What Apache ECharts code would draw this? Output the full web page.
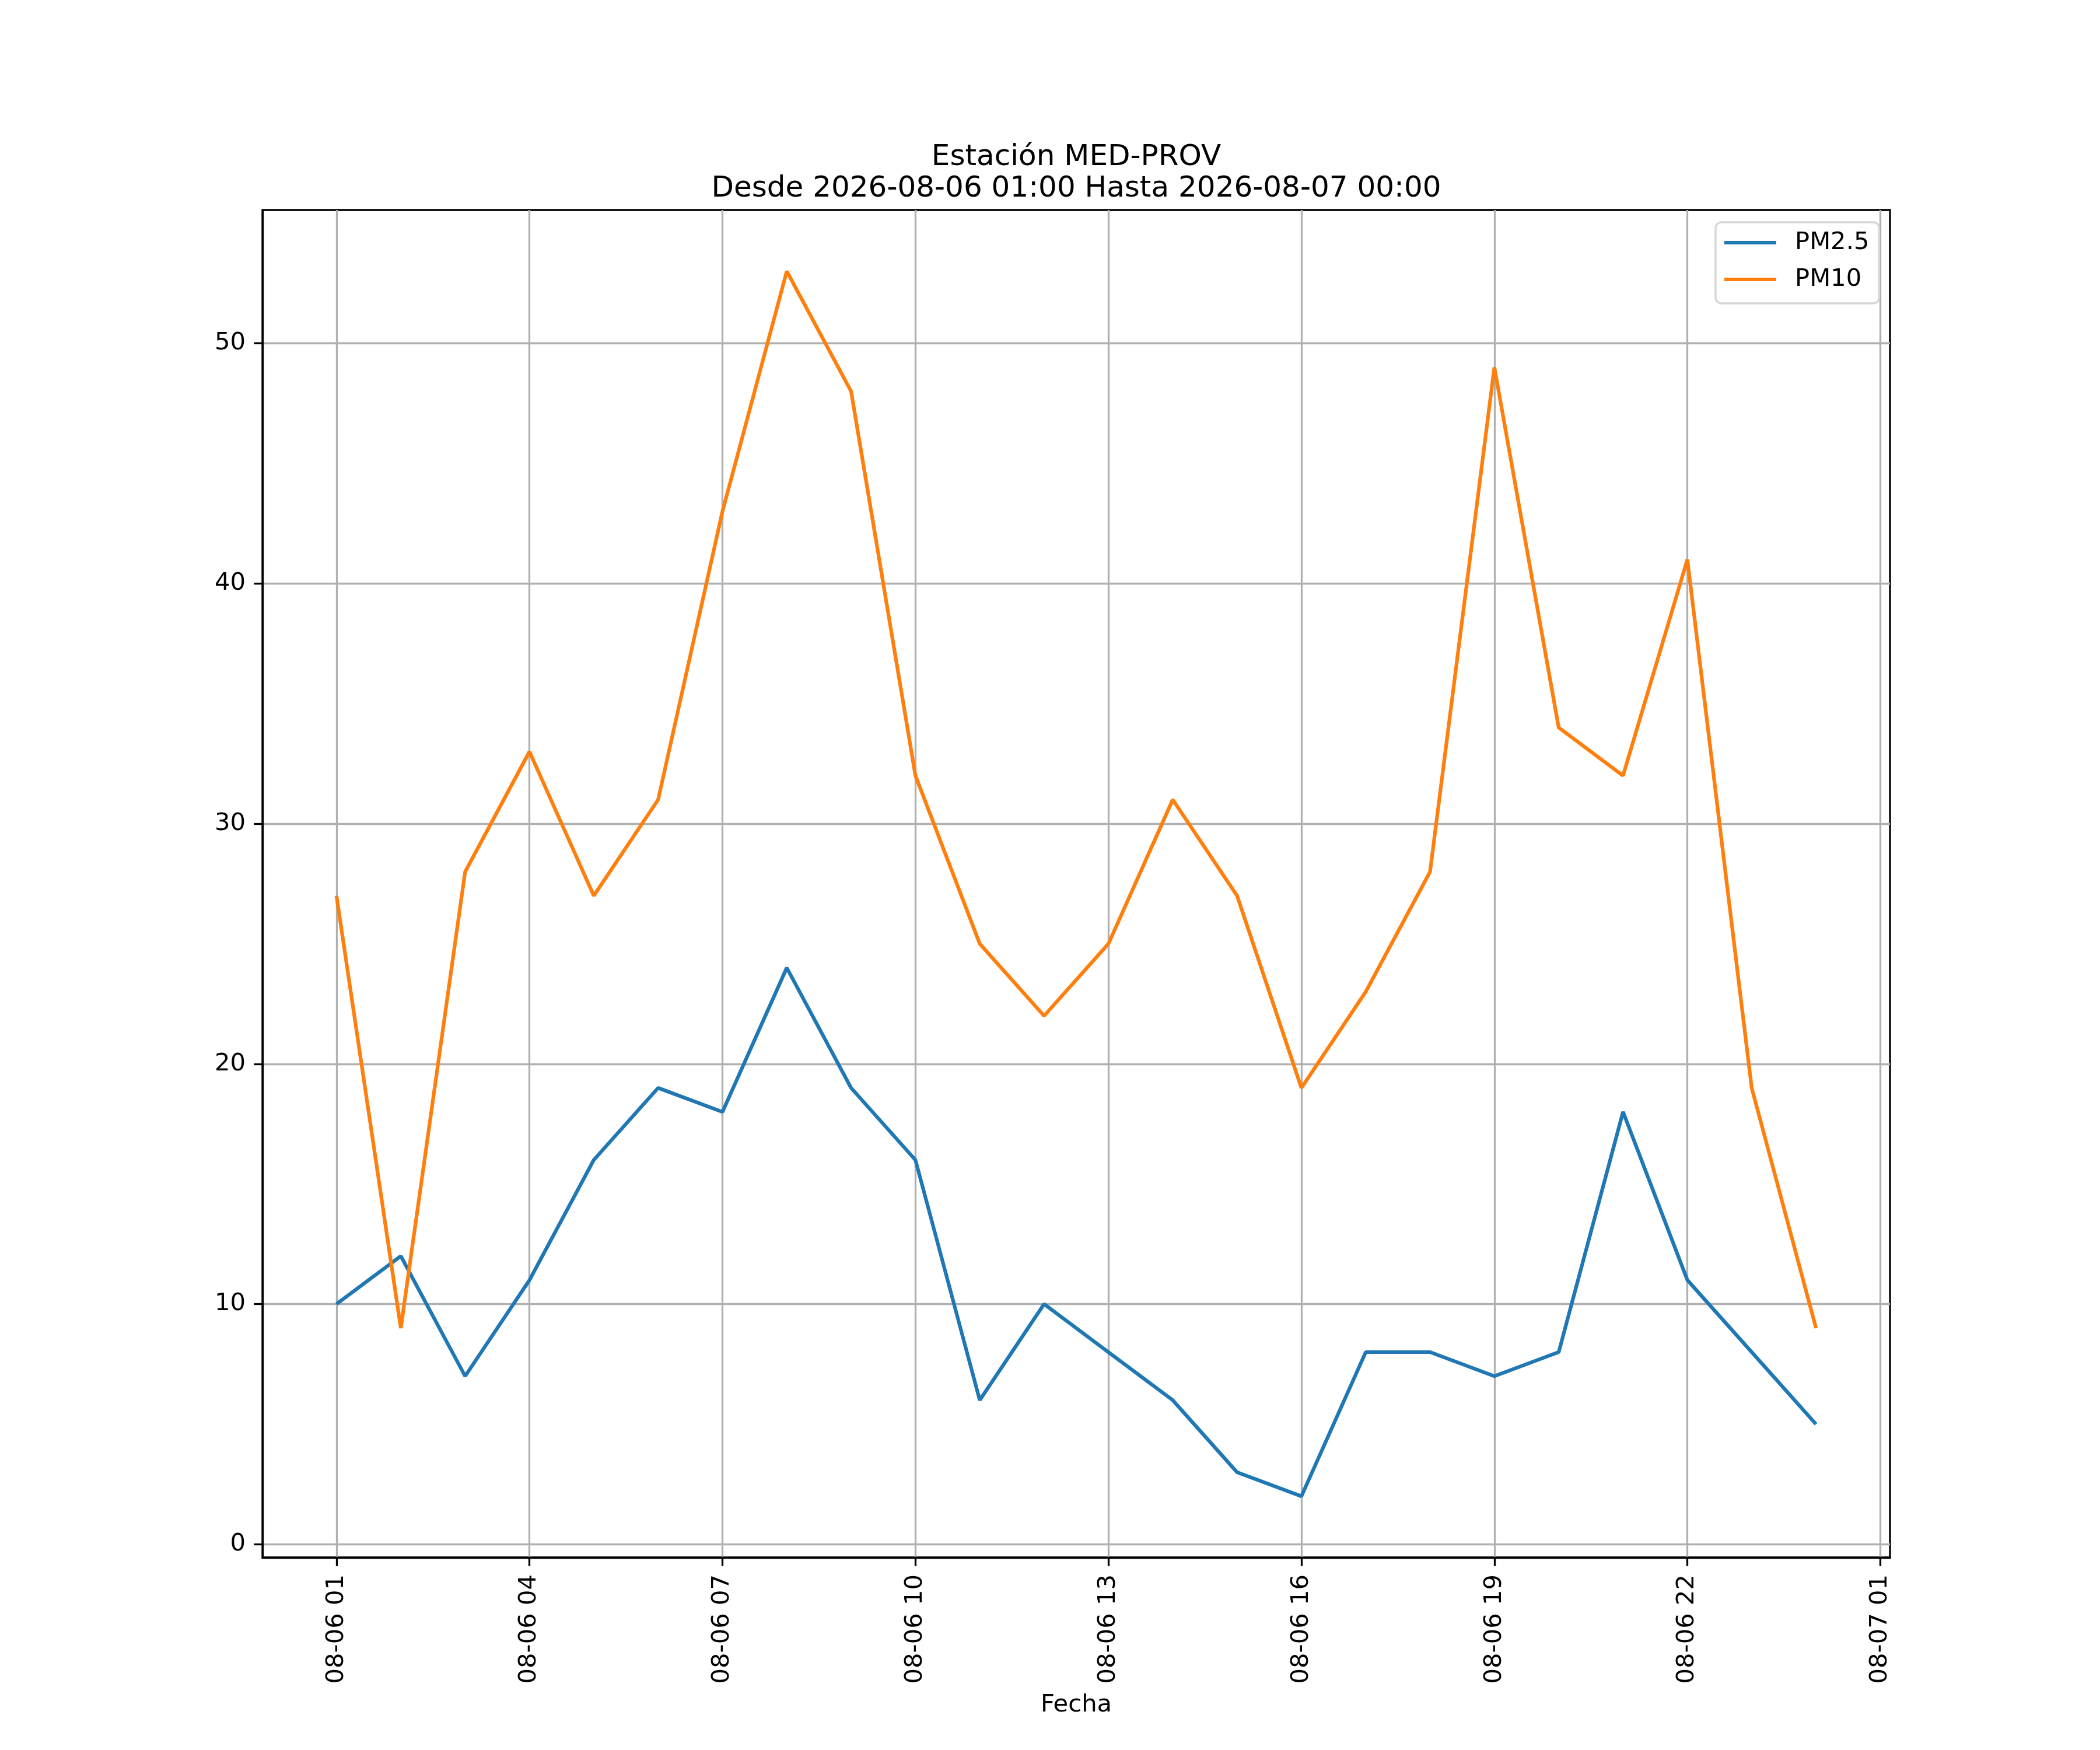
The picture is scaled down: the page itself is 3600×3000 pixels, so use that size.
<!DOCTYPE html>
<html>
<head>
<meta charset="utf-8">
<script src="https://cdn.jsdelivr.net/npm/echarts@6/dist/echarts.min.js"></script>
<style>
  html, body { margin: 0; padding: 0; background: #fff; }
  #chart { width: 3600px; height: 3000px; }
</style>
</head>
<body>
<div id="chart"></div>
<script>
// hours counted from 2026-08-06 00:00
var hours = [1, 2, 3, 4, 5, 6, 7, 8, 9, 10, 11, 12, 13, 14, 15, 16, 17, 18, 19, 20, 21, 22, 23, 24];
var pm25 = [10, 12, 7, 11, 16, 19, 18, 24, 19, 16, 6, 10, 8, 6, 3, 2, 8, 8, 7, 8, 18, 11, 8, 5];
var pm10 = [27, 9, 28, 33, 27, 31, 43, 53, 48, 32, 25, 22, 25, 31, 27, 19, 23, 28, 49, 34, 32, 41, 19, 9];
var xTicks = [1, 4, 7, 10, 13, 16, 19, 22, 25];
var yTicks = [0, 10, 20, 30, 40, 50];

var font = 'DejaVu Sans';

function pad(n){
	return (n < 10 ? '0' : '') + n;
}
function hourLabel(v){
	var day = 6 + Math.floor(v / 24);
	return '08-' + pad(day) + ' ' + pad(v % 24);
}
function toPairs(ys){
	var out = [];
	for(var i=0;i<hours.length;i++){
		out.push([hours[i], ys[i]]);
	}
	return out;
}

var chart = echarts.init(document.getElementById('chart'), null, {renderer: 'canvas'});

var option = {
	backgroundColor: '#ffffff',
	animation: false,
	title: {
		text: 'Estación MED-PROV\nDesde 2026-08-06 01:00 Hasta 2026-08-07 00:00',
		left: 1840,
		top: 238,
		textAlign: 'center',
		textStyle: {
			fontFamily: font,
			fontSize: 50,
			fontWeight: 'normal',
			color: '#000',
			lineHeight: 54
		}
	},
	legend: {
		orient: 'vertical',
		left: 2941,
		top: 381,
		padding: [14, 17, 20, 15],
		itemGap: 21,
		itemWidth: 89,
		itemHeight: 6,
		icon: 'rect',
		backgroundColor: '#fff',
		borderColor: '#d6d6d6',
		borderWidth: 3.3,
		borderRadius: 10,
		textStyle: {
			fontFamily: font,
			fontSize: 41.7,
			color: '#000',
			lineHeight: 42,
			padding: [0, 0, 0, 27]
		},
		data: ['PM2.5', 'PM10']
	},
	grid: {
		left: 450,
		right: 360,
		top: 360,
		bottom: 330,
		show: true,
		borderColor: '#000',
		borderWidth: 3.3,
		backgroundColor: 'transparent'
	},
	xAxis: {
		type: 'value',
		min: -0.15,
		max: 25.15,
		name: 'Fecha',
		nameLocation: 'middle',
		nameGap: 232,
		nameTextStyle: {fontFamily: font, fontSize: 41.7, color: '#000'},
		axisLine: {show: true, onZero: false, lineStyle: {color: '#000', width: 3.3}},
		axisTick: {show: true, length: 14.6, customValues: xTicks, lineStyle: {color: '#000', width: 3.3}},
		axisLabel: {
			customValues: xTicks,
			rotate: 90,
			margin: 29,
			fontFamily: font,
			fontSize: 41.7,
			color: '#000',
			formatter: function(v){ return hourLabel(v); }
		},
		splitLine: {show: true, lineStyle: {color: '#b0b0b0', width: 3.3}}
	},
	yAxis: {
		type: 'value',
		min: -0.55,
		max: 55.55,
		axisLine: {show: true, onZero: false, lineStyle: {color: '#000', width: 3.3}},
		axisTick: {show: true, length: 14.6, customValues: yTicks, lineStyle: {color: '#000', width: 3.3}},
		axisLabel: {
			customValues: yTicks,
			margin: 29,
			fontFamily: font,
			fontSize: 41.7,
			color: '#000'
		},
		splitLine: {show: true, lineStyle: {color: '#b0b0b0', width: 3.3}}
	},
	series: [
		{
			name: 'PM2.5',
			type: 'line',
			data: toPairs(pm25),
			symbol: 'none',
			color: '#1f77b4',
			lineStyle: {color: '#1f77b4', width: 6.25}
		},
		{
			name: 'PM10',
			type: 'line',
			data: toPairs(pm10),
			symbol: 'none',
			color: '#ff7f0e',
			lineStyle: {color: '#ff7f0e', width: 6.25}
		}
	]
};

chart.setOption(option);
</script>
</body>
</html>
